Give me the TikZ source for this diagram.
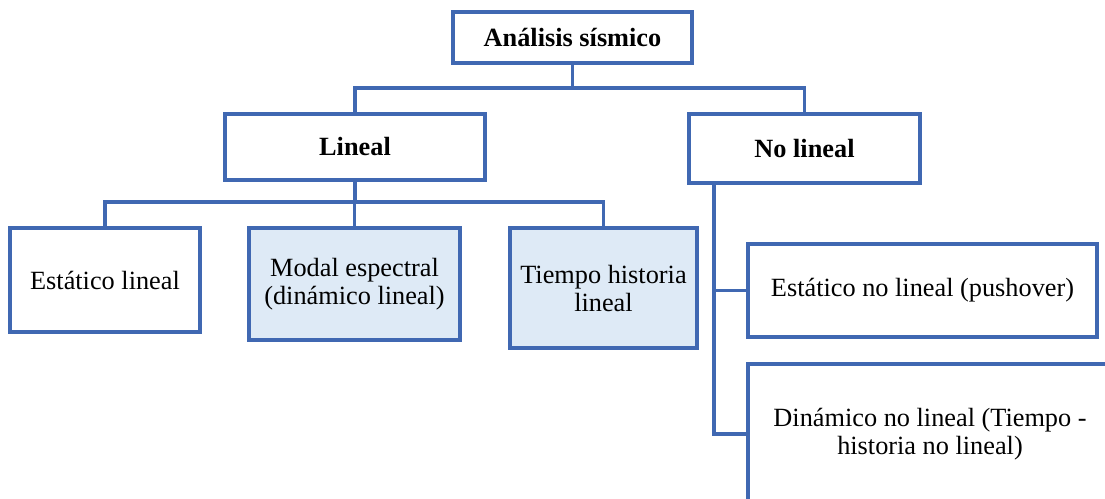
\documentclass[tikz,border=0pt]{standalone}
\usepackage{fontspec}
\setmainfont{Liberation Serif}
\definecolor{bordo}{HTML}{4068B2}
\definecolor{celeste}{HTML}{DEEAF6}
\begin{document}
\begin{tikzpicture}[x=1pt,y=-1pt,
  box/.style={draw=bordo, line width=3.2pt, fill=white, inner sep=0pt, align=center,
    font=\fontsize{26.3}{28}\selectfont},
  tinted/.style={box, fill=celeste},
  conn/.style={draw=bordo, line width=3.2pt}]
\useasboundingbox (0,0) rectangle (1105,498);
\clip (0,0) rectangle (1105,498);
\fill[white] (0,0) rectangle (1105,498);
\node[box, minimum width=239pt, minimum height=51pt] (root) at (572.5,37.5) {\textbf{Análisis sísmico}};
\node[box, minimum width=260pt, minimum height=66pt] (lin) at (355,147) {\textbf{Lineal}};
\node[box, minimum width=231pt, minimum height=69pt] (nolin) at (804.5,148.5) {\textbf{No lineal}};
\node[box, minimum width=190pt, minimum height=104pt] (el) at (105,280) {Estático lineal};
\node[tinted, minimum width=211pt, minimum height=112pt] (me) at (354.5,284) {Modal espectral\\(dinámico lineal)};
\node[tinted, minimum width=187pt, minimum height=120pt] (th) at (603.5,288) {Tiempo historia\\lineal};
\node[box, minimum width=349pt, minimum height=93pt] (enl) at (922.5,290.5) {Estático no lineal (pushover)};
\node[box, minimum width=364pt, minimum height=140pt] (dnl) at (930,434) {Dinámico no lineal (Tiempo -\\historia no lineal)};
\coordinate (b1) at (572.5,88);
\coordinate (b2) at (355,202);
\coordinate (v) at (714,183);
\draw[conn] (root.south) -- (b1);
\draw[conn] (lin.north) |- (b1) -| (nolin.north);
\draw[conn] (lin.south) -- (b2);
\draw[conn] (el.north) |- (b2) -| (th.north);
\draw[conn] (me.north) -- (me.north |- b2);
\draw[conn] (v) |- (enl.west);
\draw[conn] (v) |- (dnl.west);
\end{tikzpicture}
\end{document}
